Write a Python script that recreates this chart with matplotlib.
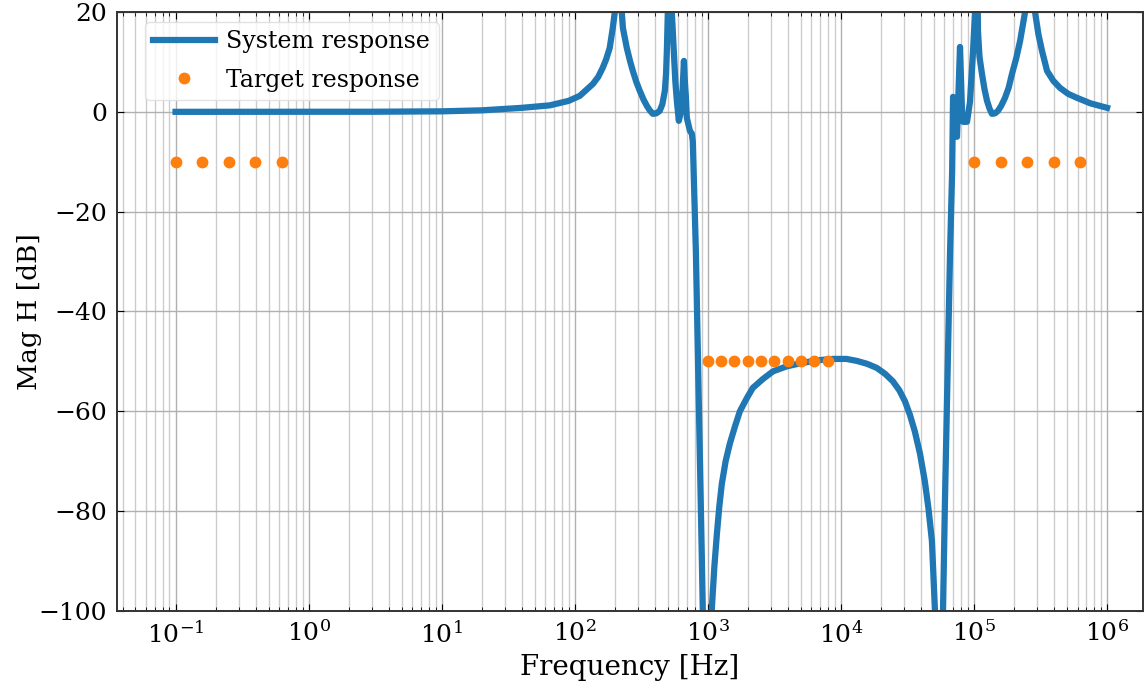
import matplotlib
matplotlib.use("Agg")
import matplotlib.pyplot as plt
import numpy as np

plt.rcParams['font.family'] = ['DejaVu Serif']
plt.rcParams['mathtext.fontset'] = 'dejavuserif'

# system response (Hz, dB)
sys_freq = [0.1, 0.3, 1, 3, 10, 20, 40, 65, 90, 109, 120, 137, 150, 162, 172,
            183, 193, 200, 212, 220, 230, 246, 260, 273, 290, 308, 328, 348,
            366, 386, 410, 435, 455, 475, 485, 492, 501, 518, 536, 555, 570,
            585, 605, 627, 645, 661, 672, 684, 695, 733, 759, 771, 813, 841,
            871, 902, 977, 1072, 1120, 1169, 1220, 1274, 1360, 1462, 1600,
            1740, 1950, 2177, 2600, 3083, 3900, 4920, 6500, 8710, 11000, 13200,
            15800, 18600, 21500, 24600, 27500, 30300, 33000, 35900, 39300,
            42700, 45500, 48300, 50900, 54600, 58500, 60500, 63800, 66100,
            68500, 69600, 72000, 74500, 78500, 81300, 82700, 88600, 93300,
            98300, 101800, 104500, 107200, 110000, 114800, 120000, 125300,
            131000, 136500, 144000, 151400, 160000, 171000, 182000, 193000,
            208000, 222000, 242000, 263000, 287500, 305000, 324500, 354000,
            395000, 443000, 510000, 595000, 750000, 1000000]
sys_db = [0.0, 0.0, 0.0, 0.02, 0.1, 0.3, 0.8, 1.3, 2.2, 3.2, 4.2, 5.6, 7.0,
          8.8, 10.5, 12.8, 16.8, 20, 40, 24, 16.8, 12.8, 10.2, 8.2, 6.0, 4.2,
          2.5, 1.2, 0.3, -0.4, -0.3, 0.2, 1.5, 4.2, 7.5, 12.2, 20, 40, 20, 12,
          6.0, 2.2, -1.8, 0.0, 4.0, 10.2, 6.0, 3.0, -1.2, -3.8, -4.4, -6.0,
          -28, -48, -68, -90, -140, -99.4, -91, -84.6, -79, -74.5, -70, -66.5,
          -63, -60, -57.5, -55.3, -53.5, -52, -51, -50.4, -49.8, -49.5, -49.5,
          -49.9, -50.5, -51.3, -52.5, -54, -55.8, -58, -60.7, -64, -68.5, -74,
          -79.5, -86, -100, -140, -100, -78, -48, -28, -12, 3.0, -4.0, -5.0,
          13, 0.0, -2.0, -2.0, 2.0, 12, 20, 40, 16, 11, 7.6, 4.5, 2.2, 0.6,
          -0.4, -0.3, 0.2, 1.2, 2.8, 4.8, 7.6, 10.8, 14.2, 20, 40, 20, 15.5,
          12.2, 8.2, 6.2, 4.8, 3.6, 2.8, 1.7, 0.8]

# target response points
tgt_freq = [0.1, 0.158, 0.251, 0.398, 0.631,
            1000, 1259, 1585, 1995, 2512, 3162, 3981, 5012, 6310, 7943,
            100000, 158500, 251200, 398100, 631000]
tgt_db = [-10, -10, -10, -10, -10,
          -50, -50, -50, -50, -50, -50, -50, -50, -50, -50,
          -10, -10, -10, -10, -10]

fig = plt.figure(figsize=(11.45, 6.93), dpi=100)
ax = fig.add_axes([117/1145, 82/693, 1026/1145, 599/693])

ax.semilogx(sys_freq, sys_db, color='#1f77b4', lw=4.5, label='System response')
ax.semilogx(tgt_freq, tgt_db, 'o', color='#ff7f0e', ms=7.5, label='Target response')

ax.set_xlim(10**-1.44, 10**6.27)
ax.set_ylim(-100, 20)
ax.set_yticks([-100, -80, -60, -40, -20, 0, 20])

ax.grid(True, which='major', color='#b0b0b0', lw=1)
ax.grid(True, which='minor', axis='x', color='#cccccc', lw=1)
ax.set_axisbelow(True)

ax.tick_params(which='both', direction='in', top=True, right=True, labelsize=18)
ax.tick_params(which='major', length=5, pad=7)
ax.tick_params(which='minor', length=3)
for s in ax.spines.values():
    s.set_color('#333333')
    s.set_linewidth(1.4)

ax.set_xlabel('Frequency [Hz]', fontsize=20, labelpad=5)
ax.set_ylabel('Mag H [dB]', fontsize=19, labelpad=-2)
ax.legend(loc='upper left', bbox_to_anchor=(28/1026, 1 - 10/599), borderaxespad=0,
          fontsize=17, handlelength=2.6, framealpha=0.8, edgecolor='#dddddd',
          borderpad=0.35, labelspacing=0.65, handletextpad=0.5)

fig.savefig('out.png', dpi=100)
